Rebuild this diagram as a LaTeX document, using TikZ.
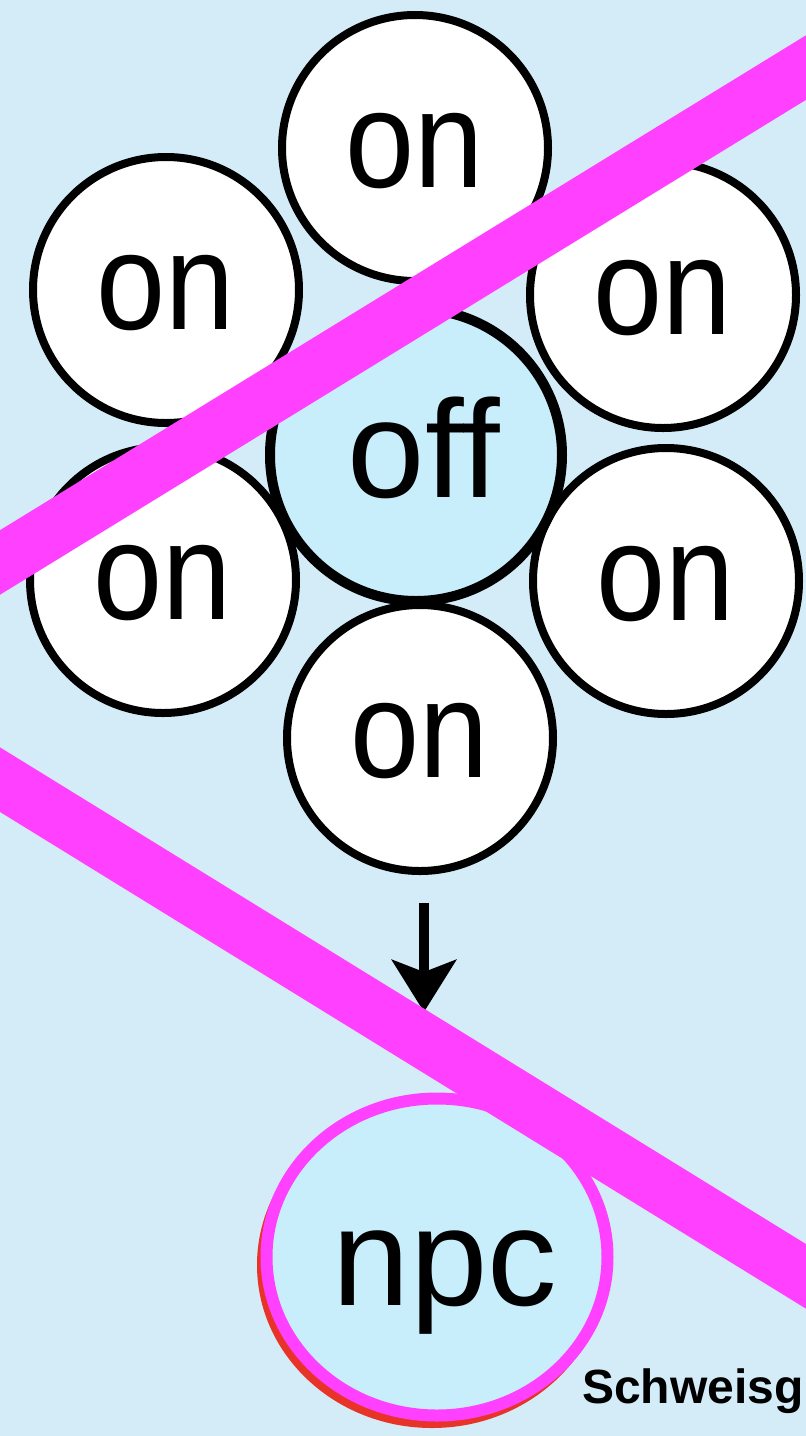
\documentclass[tikz,border=0pt]{standalone}
\usepackage{fontspec}
\setmainfont{Liberation Sans}
\usetikzlibrary{arrows.meta,shapes.geometric}
\definecolor{sky}{RGB}{211,236,248}
\definecolor{paleblue}{RGB}{200,238,251}
\definecolor{strikepink}{RGB}{255,64,255}
\definecolor{shadowred}{RGB}{232,52,40}
\newcommand{\onlabel}{\scalebox{0.9}[1]{on}}
\tikzset{
 onstate/.style={circle,draw=black,line width=8pt,fill=white,minimum size=266pt,
  inner sep=0pt,text height=78pt,text depth=0pt,font=\fontsize{138}{138}\selectfont},
 offstate/.style={circle,draw=black,line width=10pt,fill=paleblue,minimum size=292pt,
  inner sep=0pt,text height=84pt,text depth=0pt,font=\fontsize{139}{139}\selectfont},
 npcstate/.style={ellipse,draw=strikepink,line width=12pt,fill=paleblue,
  minimum width=341pt,minimum height=317pt,inner sep=0pt,text height=96pt,
  text depth=0pt,font=\fontsize{139}{139}\selectfont},
 strike/.style={strikepink,line width=55pt},
}

\begin{document}
\begin{tikzpicture}[x=1pt,y=-1pt]
\useasboundingbox (0,0) rectangle (806,1436);
\clip (0,0) rectangle (806,1436);
\fill[sky] (0,0) rectangle (806,1436);
\node[onstate] (UL) at (166,290) {\onlabel};
\node[onstate] (UR) at (663,295) {\onlabel};
\node[onstate] (LL) at (163,580) {\onlabel};
\node[onstate] (LR) at (666,581) {\onlabel};
\node[onstate] (T) at (415,148) {\onlabel};
\node[onstate] (B) at (420,738) {\onlabel};
\node[offstate] (off) at (416,455) {\hspace*{16pt}off};
\coordinate (a0) at (424,903);
\coordinate (a1) at (424,1012);
\draw[line width=10pt,-{Stealth[length=52pt,width=64pt,inset=12pt]}] (a0) -- (a1);
\node[ellipse,fill=shadowred,minimum width=350pt,minimum height=326pt] (npcshadow) at (432,1265) {};
\node[npcstate] (npc) at (437,1257) {\hspace*{16pt}npc};
\coordinate (p1) at (-40,587);
\coordinate (p2) at (846,43);
\coordinate (q1) at (-40,755);
\coordinate (q2) at (846,1301);
\draw[strike] (p1) -- (p2);
\draw[strike] (q1) -- (q2);
\node[font=\bfseries\fontsize{48}{48}\selectfont,anchor=base west,inner sep=0pt] (credit) at (582,1403) {Schweisg};
\end{tikzpicture}
\end{document}
